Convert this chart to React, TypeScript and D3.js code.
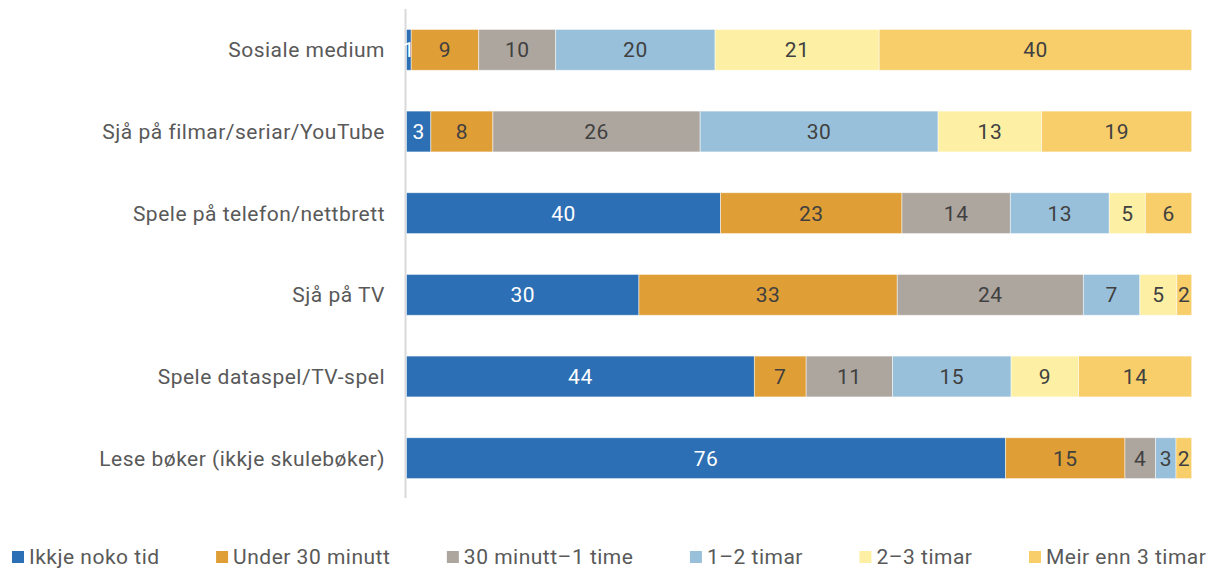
import React from 'react';
import * as d3 from 'd3';

const categories = [
  'Sosiale medium',
  'Sjå på filmar/seriar/YouTube',
  'Spele på telefon/nettbrett',
  'Sjå på TV',
  'Spele dataspel/TV-spel',
  'Lese bøker (ikkje skulebøker)',
];
const seriesNames = ['Ikkje noko tid', 'Under 30 minutt', '30 minutt–1 time', '1–2 timar', '2–3 timar', 'Meir enn 3 timar'];
const ikkjeNokoTid = [0.6, 3.1, 40.0, 29.6, 44.3, 76.3];
const under30Minutt = [8.6, 7.9, 23.1, 32.9, 6.6, 15.2];
const minutt30Til1Time = [9.8, 26.4, 13.8, 23.7, 11.0, 3.9];
const timar1Til2 = [20.3, 30.3, 12.6, 7.2, 15.1, 2.6];
const timar2Til3 = [20.9, 13.2, 4.6, 4.7, 8.6, 0];
const meirEnn3Timar = [39.8, 19.1, 5.9, 1.9, 14.4, 2.0];
const seriesColors = ['#2d6fb4', '#e09e36', '#ada69f', '#99c0da', '#fdf0a5', '#f8ce6a'];
const labelColors = ['#ffffff', '#404040', '#404040', '#404040', '#404040', '#404040'];
const xDomain = [0, 100];

const seriesValues = [ikkjeNokoTid, under30Minutt, minutt30Til1Time, timar1Til2, timar2Til3, meirEnn3Timar];

const W = 1207;
const H = 568;
const FONT = 'Roboto, "Noto Sans", sans-serif';
const LS = 0.5;

function measure(text: string, size: number) {
  if (typeof document === 'undefined') return text.length * size * 0.5;
  const c = document.createElement('canvas');
  const ctx = c.getContext('2d')!;
  ctx.font = `${size}px Roboto`;
  return ctx.measureText(text).width + text.length * LS;
}

export default function App() {
  const rows = categories.map((c, i) => {
    const r: any = { cat: c };
    seriesNames.forEach((s, k) => (r[s] = seriesValues[k][i]));
    return r;
  });
  const stacked = d3.stack<any>().keys(seriesNames)(rows);

  const x = d3.scaleLinear().domain(xDomain).range([406.5, 1191.7]);
  const y = d3.scaleBand<string>().domain(categories).range([9, 499]).paddingInner(0.5).paddingOuter(0.25);

  const legendY = 557;
  let lx = 12;
  const legendItems = seriesNames.map((name, k) => {
    const item = { name, x: lx, color: seriesColors[k] };
    lx += 12 + 5 + measure(name, 21) + 56.5;
    return item;
  });

  return (
    <svg width={W} height={H} style={{ position: 'absolute', left: 0, top: 0, display: 'block', background: '#fff' }} fontFamily={FONT}>
      <line x1={405.5} x2={405.5} y1={9} y2={498} stroke="#d9d9d9" strokeWidth={2} />
      {stacked.map((layer, k) => (
        <g key={layer.key}>
          {layer.map((d, i) => {
            const w = x(d[1]) - x(d[0]);
            if (w <= 0) return null;
            return (
              <rect
                key={i}
                x={x(d[0])}
                y={y(categories[i])}
                width={w}
                height={y.bandwidth()}
                fill={seriesColors[k]}
                stroke="#ffffff"
                strokeWidth={0.8}
                strokeOpacity={0.6}
              />
            );
          })}
        </g>
      ))}
      {stacked.map((layer, k) => (
        <g key={'l' + layer.key}>
          {layer.map((d, i) => {
            const v = d[1] - d[0];
            const lbl = Math.round(v);
            if (lbl <= 0) return null;
            return (
              <text
                key={i}
                x={(x(d[0]) + x(d[1])) / 2}
                y={y(categories[i])! + y.bandwidth() / 2}
                dy="0.35em"
                textAnchor="middle"
                fontSize={21}
                letterSpacing={LS}
                fill={labelColors[k]}
              >
                {lbl}
              </text>
            );
          })}
        </g>
      ))}
      {categories.map((c) => (
        <text key={c} x={385} y={y(c)! + y.bandwidth() / 2} dy="0.35em" textAnchor="end" fontSize={21} letterSpacing={LS} fill="#595959">
          {c}
        </text>
      ))}
      {legendItems.map((it) => (
        <g key={it.name}>
          <rect x={it.x} y={legendY - 6} width={12} height={12} fill={it.color} />
          <text x={it.x + 17} y={legendY} dy="0.35em" fontSize={21} letterSpacing={LS} fill="#595959">
            {it.name}
          </text>
        </g>
      ))}
    </svg>
  );
}
